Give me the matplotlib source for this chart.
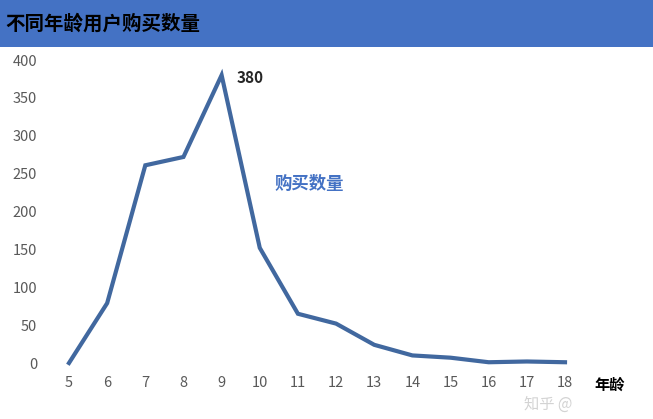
import matplotlib
matplotlib.use('Agg')
import matplotlib.pyplot as plt
from matplotlib.patches import Rectangle

plt.rcParams['font.family'] = ['Noto Sans CJK SC', 'DejaVu Sans']

# data
ages = [5, 6, 7, 8, 9, 10, 11, 12, 13, 14, 15, 16, 17, 18]
counts = [0, 79, 261, 272, 380, 152, 65, 52, 24, 10, 7, 1, 2, 1]
y_ticks = [0, 50, 100, 150, 200, 250, 300, 350, 400]

title = '不同年龄用户购买数量'
series_name = '购买数量'
x_name = '年龄'

fig = plt.figure(figsize=(6.53, 4.19), dpi=100)

# blue title bar
fig.patches.append(Rectangle((0, 1 - 47 / 419), 1, 47 / 419, transform=fig.transFigure,
                             facecolor='#4472C4', edgecolor='none', zorder=0))
fig.text(5 / 653, 1 - 24 / 419, title, fontsize=14, fontweight='bold', color='black',
         va='center', ha='left')

ax = fig.add_axes([69 / 653, 56 / 419, (565 - 69) / 653, (363 - 60) / 419])
ax.plot(ages, counts, color='#41689F', linewidth=3, solid_joinstyle='miter', clip_on=False)

ax.set_xlim(5, 18)
ax.set_ylim(0, 400)
ax.set_xticks(ages)
ax.set_yticks(y_ticks)
for s in ax.spines.values():
    s.set_visible(False)
ax.tick_params(length=0, labelsize=10.5, colors='#595959')
ax.tick_params(axis='x', pad=9)
ax.tick_params(axis='y', pad=23)

# annotations
ax.annotate('380', (9, 380), xytext=(11, -2), textcoords='offset points',
            fontsize=11, fontweight='bold', color='#262626', va='center')
ax.text(11.3, 236, series_name, fontsize=12.5, fontweight='bold', color='#4472C4',
        va='center', ha='center')
fig.text(610 / 653, 1 - 385 / 419, x_name, fontsize=11, fontweight='bold',
         color='black', ha='center', va='center')
fig.text(548 / 653, 1 - 404 / 419, '知乎 @', fontsize=11, color='#c8c8c8',
         ha='center', va='center', alpha=0.8)

fig.savefig('out.png', dpi=100, facecolor='white')
